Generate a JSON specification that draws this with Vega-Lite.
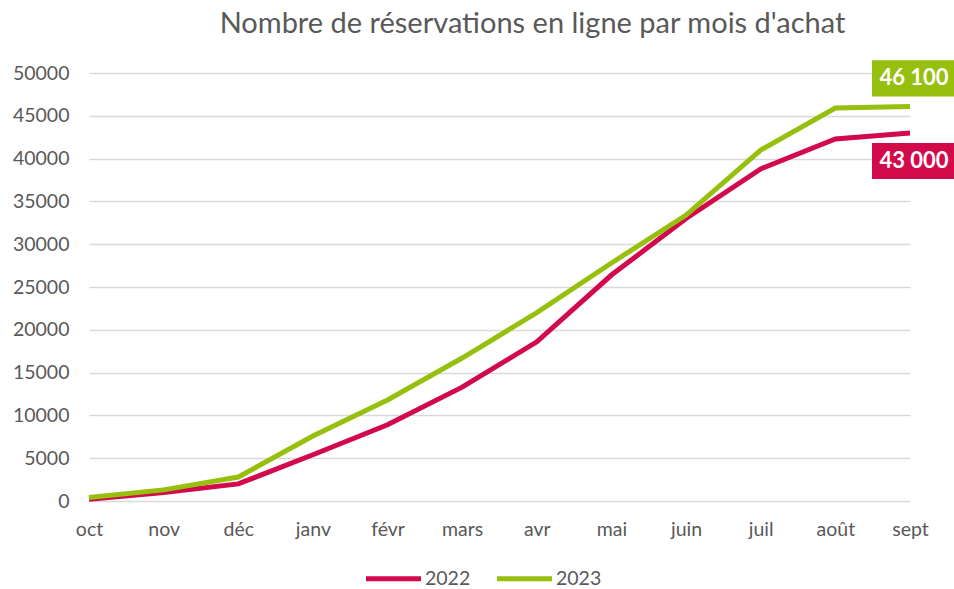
{
  "$schema": "https://vega.github.io/schema/vega-lite/v6.json",
  "autosize": {"type": "none"},
  "width": 821,
  "height": 428,
  "padding": {"left": 89, "top": 73, "right": 44, "bottom": 88},
  "background": "white",
  "config": {
    "font": "Lato",
    "view": {"stroke": null},
    "locale": {"number": {"decimal": ",", "thousands": " ", "grouping": [3], "currency": ["", " €"]}},
    "axis": {"labelFont": "Lato", "labelColor": "#595959", "labelFontSize": 19.5}
  },
  "title": {
    "text": "Nombre de réservations en ligne par mois d'achat",
    "fontSize": 29,
    "fontWeight": "normal",
    "color": "#595959",
    "font": "Lato",
    "offset": 21,
    "dx": 33
  },
  "data": {
    "values": [
      {"mois": "oct", "annee": "2022", "valeur": 200},
      {"mois": "nov", "annee": "2022", "valeur": 1000},
      {"mois": "déc", "annee": "2022", "valeur": 2000},
      {"mois": "janv", "annee": "2022", "valeur": 5400},
      {"mois": "févr", "annee": "2022", "valeur": 8900},
      {"mois": "mars", "annee": "2022", "valeur": 13300},
      {"mois": "avr", "annee": "2022", "valeur": 18600},
      {"mois": "mai", "annee": "2022", "valeur": 26400},
      {"mois": "juin", "annee": "2022", "valeur": 33000},
      {"mois": "juil", "annee": "2022", "valeur": 38800},
      {"mois": "août", "annee": "2022", "valeur": 42300},
      {"mois": "sept", "annee": "2022", "valeur": 43000},
      {"mois": "oct", "annee": "2023", "valeur": 400},
      {"mois": "nov", "annee": "2023", "valeur": 1300},
      {"mois": "déc", "annee": "2023", "valeur": 2800},
      {"mois": "janv", "annee": "2023", "valeur": 7600},
      {"mois": "févr", "annee": "2023", "valeur": 11800},
      {"mois": "mars", "annee": "2023", "valeur": 16700},
      {"mois": "avr", "annee": "2023", "valeur": 22000},
      {"mois": "mai", "annee": "2023", "valeur": 27800},
      {"mois": "juin", "annee": "2023", "valeur": 33400},
      {"mois": "juil", "annee": "2023", "valeur": 41000},
      {"mois": "août", "annee": "2023", "valeur": 45900},
      {"mois": "sept", "annee": "2023", "valeur": 46100}
    ]
  },
  "encoding": {
    "x": {
      "field": "mois",
      "type": "ordinal",
      "sort": ["oct", "nov", "déc", "janv", "févr", "mars", "avr", "mai", "juin", "juil", "août", "sept"],
      "scale": {"type": "point", "padding": 0},
      "axis": {"title": null, "labelAngle": 0, "ticks": false, "domain": false, "grid": false, "labelPadding": 19}
    },
    "y": {
      "field": "valeur",
      "type": "quantitative",
      "scale": {"domain": [0, 50000], "nice": false},
      "axis": {"title": null, "values": [0, 5000, 10000, 15000, 20000, 25000, 30000, 35000, 40000, 45000, 50000], "format": "d", "ticks": false, "domain": false, "gridColor": "#d9d9d9", "gridWidth": 1.5, "labelPadding": 20}
    }
  },
  "layer": [
    {
      "mark": {"type": "line", "strokeWidth": 5, "strokeCap": "butt"},
      "encoding": {
        "color": {
          "field": "annee",
          "type": "nominal",
          "scale": {"domain": ["2022", "2023"], "range": ["#D2094B", "#97BF0D"]},
          "legend": {
            "title": null,
            "orient": "none",
            "direction": "horizontal",
            "legendX": 288,
            "legendY": 489,
            "symbolType": "M-2,0H2",
            "symbolSize": 756,
            "symbolStrokeWidth": 5,
            "symbolStrokeCap": "round",
            "labelFontSize": 19.5,
            "labelColor": "#595959",
            "labelFont": "Lato",
            "labelOffset": 15,
            "columnPadding": 16
          }
        }
      }
    },
    {
      "transform": [{"filter": "datum.mois == 'sept' && datum.annee == '2023'"}],
      "layer": [
        {"mark": {"type": "point", "shape": "M-1,-0.44H1V0.44H-1Z", "size": 6724, "filled": true, "opacity": 1, "color": "#97BF0D", "xOffset": 3, "yOffset": -28}},
        {"mark": {"type": "text", "color": "white", "fontWeight": "bold", "fontSize": 22, "font": "Lato", "dx": 4, "dy": -28}, "encoding": {"text": {"field": "valeur", "type": "quantitative", "format": ",d"}}}
      ]
    },
    {
      "transform": [{"filter": "datum.mois == 'sept' && datum.annee == '2022'"}],
      "layer": [
        {"mark": {"type": "point", "shape": "M-1,-0.44H1V0.44H-1Z", "size": 6724, "filled": true, "opacity": 1, "color": "#D2094B", "xOffset": 3, "yOffset": 28}},
        {"mark": {"type": "text", "color": "white", "fontWeight": "bold", "fontSize": 22, "font": "Lato", "dx": 4, "dy": 28}, "encoding": {"text": {"field": "valeur", "type": "quantitative", "format": ",d"}}}
      ]
    }
  ]
}
